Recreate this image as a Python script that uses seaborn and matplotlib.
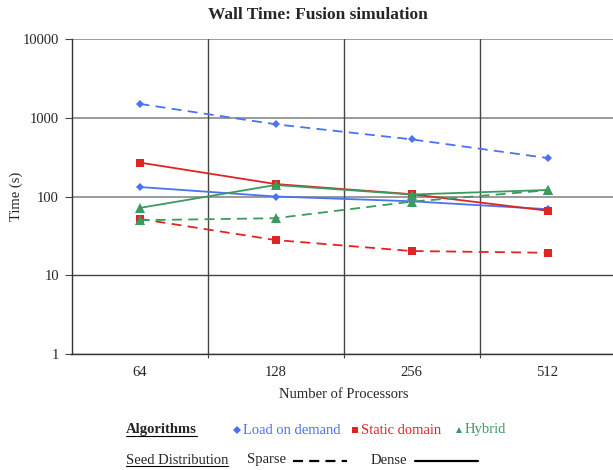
import matplotlib
matplotlib.use("Agg")
import matplotlib.pyplot as plt
from matplotlib.lines import Line2D
import seaborn as sns
import pandas as pd

# ---- data ----
processors = ["64", "128", "256", "512"]
algorithms = ["Load on demand", "Static domain", "Hybrid"]
distributions = ["Sparse", "Dense"]
lod_sparse = [1500, 826, 532, 308]
lod_dense = [132, 100, 87, 69]
static_sparse = [52, 28, 20.3, 19.3]
static_dense = [270, 144, 107, 66]
hybrid_sparse = [50, 53, 86, 120]
hybrid_dense = [71.5, 140, 106, 121]
y_ticks = [1, 10, 100, 1000, 10000]
y_tick_labels = ["1", "10", "100", "1000", "10000"]

series = {
    ("Load on demand", "Sparse"): lod_sparse,
    ("Load on demand", "Dense"): lod_dense,
    ("Static domain", "Sparse"): static_sparse,
    ("Static domain", "Dense"): static_dense,
    ("Hybrid", "Sparse"): hybrid_sparse,
    ("Hybrid", "Dense"): hybrid_dense,
}
rows = []
for (alg, dist), vals in series.items():
    for i, (p, v) in enumerate(zip(processors, vals)):
        rows.append({"Algorithm": alg, "Distribution": dist, "pos": i,
                     "Processors": p, "Time": v})
df = pd.DataFrame(rows)

colors = {"Load on demand": "#4a72f2", "Static domain": "#e02424", "Hybrid": "#3b9b5e"}
markers = {"Load on demand": "D", "Static domain": "s", "Hybrid": "^"}
msizes = {"Load on demand": 4.5, "Static domain": 6, "Hybrid": 6.5}

sns.set_theme(style="white")
plt.rcParams["font.family"] = ["Liberation Serif", "DejaVu Serif"]

fig = plt.figure(figsize=(6.13, 4.70), dpi=100)
ax = fig.add_axes([71.5 / 613, 116 / 470, 544 / 613, 315 / 470])

for alg in algorithms:
    sub = df[df["Algorithm"] == alg]
    sns.lineplot(data=sub, x="pos", y="Time", hue="Algorithm", style="Distribution",
                 palette={alg: colors[alg]},
                 markers={d: markers[alg] for d in distributions},
                 dashes={"Sparse": (5.5, 3.5), "Dense": ""},
                 style_order=distributions,
                 markersize=msizes[alg], markeredgewidth=0,
                 linewidth=1.3, ax=ax, legend=False, sort=False)

ax.set_yscale("log")
ax.set_ylim(1, 10000)
ax.set_xlim(-0.5, 3.5)
ax.set_yticks(y_ticks)
ax.set_yticklabels(y_tick_labels)
ax.yaxis.set_minor_locator(matplotlib.ticker.NullLocator())
ax.set_xticks(range(len(processors)))
ax.set_xticklabels(processors)
ax.tick_params(axis="x", length=0, pad=9, labelsize=10.5)
ax.tick_params(axis="y", which="major", left=True, length=5, width=0.8,
               color="#444444", pad=4, labelsize=10.5)
ax.set_xticks([0.5, 1.5, 2.5], minor=True)
ax.tick_params(axis="x", which="minor", bottom=True, length=3, width=0.8, color="#444444")

# grid lines
for yv in y_ticks:
    if yv >= 100:
        ax.axhline(yv, color="#9a9a9a", lw=1.4, zorder=0.5)
    else:
        ax.axhline(yv, color="#444444", lw=1.0, zorder=0.5)
for xv in [0.5, 1.5, 2.5]:
    ax.axvline(xv, color="#444444", lw=1.0, zorder=0.5)

for s in ["top", "right"]:
    ax.spines[s].set_visible(False)
ax.spines["left"].set_color("#333333")
ax.spines["bottom"].set_color("#333333")
ax.spines["left"].set_linewidth(1.0)
ax.spines["bottom"].set_linewidth(1.0)

ax.set_xlabel("Number of Processors", fontsize=10.5, labelpad=6)
ax.set_ylabel("Time (s)", fontsize=10.5, labelpad=0)
fig.text(318 / 613, 1 - 15 / 470, "Wall Time: Fusion simulation",
         ha="center", va="center", fontsize=12.5, fontweight="bold")

# ---- custom legend ----
def fx(px):
    return px / 613

def fy(py):
    return 1 - py / 470

r1, r2 = 430, 460
fs = 10.5
t_alg = fig.text(fx(126), fy(r1), "Algorithms", ha="left", va="center",
                 fontsize=fs, fontweight="bold")
t_seed = fig.text(fx(126), fy(r2), "Seed Distribution", ha="left", va="center", fontsize=fs)

item_x = {"Load on demand": 237, "Static domain": 355, "Hybrid": 459}
for alg in algorithms:
    fig.add_artist(Line2D([fx(item_x[alg])], [fy(r1)], marker=markers[alg], ls="none",
                          color=colors[alg], markersize=3.8, markeredgewidth=0,
                          transform=fig.transFigure))
    fig.text(fx(item_x[alg] + 6), fy(r1), alg, ha="left", va="center",
             fontsize=fs, color=colors[alg])

fig.text(fx(247), fy(r2), "Sparse", ha="left", va="center", fontsize=fs)
fig.add_artist(Line2D([fx(293), fx(347)], [fy(r2 + 1), fy(r2 + 1)], color="black", lw=1.6,
                      dashes=(4.5, 2.8), transform=fig.transFigure))
fig.text(fx(371), fy(r2), "Dense", ha="left", va="center", fontsize=fs)
fig.add_artist(Line2D([fx(415), fx(478)], [fy(r2 + 1), fy(r2 + 1)], color="black", lw=1.6,
                      transform=fig.transFigure))

# underline the legend headers
fig.canvas.draw()
renderer = fig.canvas.get_renderer()
for t in (t_alg, t_seed):
    bb = t.get_window_extent(renderer).transformed(fig.transFigure.inverted())
    fig.add_artist(Line2D([bb.x0, bb.x1], [bb.y0 + 0.002, bb.y0 + 0.002], color="black",
                          lw=0.8, transform=fig.transFigure))

fig.savefig("out.png", dpi=100)
